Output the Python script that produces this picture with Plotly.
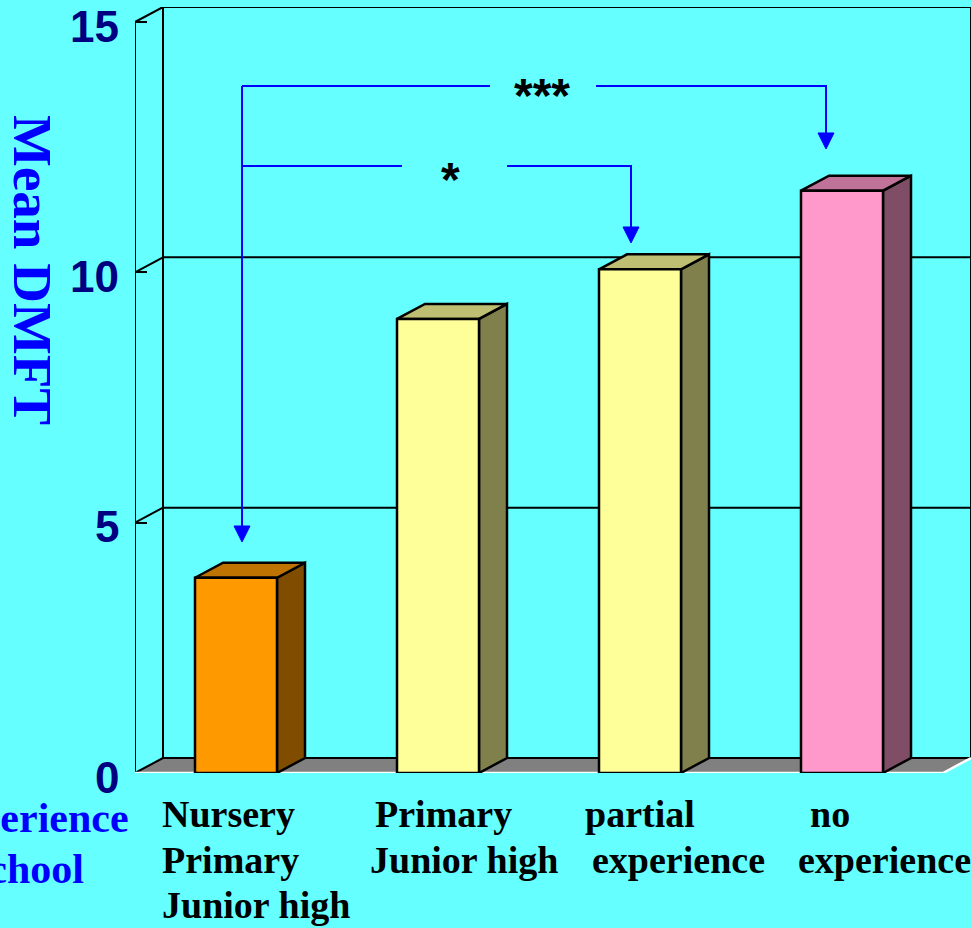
import plotly.graph_objects as go

# ---- data ----
categories = ["Nursery/Primary/Junior high", "Primary/Junior high",
              "partial experience", "no experience"]
category_lines = [["Nursery", "Primary", "Junior high"],
                  ["Primary", "Junior high"],
                  ["partial", "experience"],
                  ["no", "experience"]]
mean_dmft = [3.90, 9.07, 10.06, 11.63]
y_ticks = [0, 5, 10, 15]
significance = ["***", "*"]

front_colors = ["#FF9900", "#FFFF99", "#FFFF99", "#FF99CC"]
top_colors = ["#BF7300", "#BFBF73", "#BFBF73", "#BF7399"]
side_colors = ["#804D00", "#80804D", "#80804D", "#804D66"]

# ---- figure geometry ----
W, H = 972, 928
ML, MR, MT, MB = 135, 1, 7, 155
PX_PER_X = 202.0           # pixels per category
PX_PER_Y = 766.0 / 15.3    # pixels per DMFT unit
DX = 28 / PX_PER_X         # depth offset of the 3-D box (x units)
DY = 15 / PX_PER_Y         # depth offset of the 3-D box (y units)
X_LO, X_HI = -0.5, 3.5
Y_TOP = 15
BAR_W = 82 / PX_PER_X
BG = "#66FFFF"
BLUE = "#0000FF"


def px_x(px):
    return X_LO + (px - ML) / PX_PER_X


def px_y(py):
    return (H - MB - py) / PX_PER_Y


def paper_x(px):
    return (px - ML) / (W - ML - MR)


def paper_y(py):
    return (H - MB - py) / (H - MB - MT)


fig = go.Figure()

# floor
fig.add_trace(go.Scatter(
    x=[X_LO, X_HI, X_HI + DX, X_LO + DX, X_LO],
    y=[0, 0, DY, DY, 0],
    fill="toself", fillcolor="#808080", mode="lines",
    line=dict(width=0), hoverinfo="skip", showlegend=False))

# walls: back wall frame, gridlines, left side wall
wx, wy = [], []
wx += [X_LO + DX, X_LO + DX, X_HI + DX, X_HI + DX, None]
wy += [DY, Y_TOP + DY, Y_TOP + DY, DY, None]
for t in y_ticks:
    if 0 < t < Y_TOP:
        wx += [X_LO + DX, X_HI + DX, None]
        wy += [t + DY, t + DY, None]
wx += [X_LO + DX, X_HI + DX, None]
wy += [DY, DY, None]
wx += [X_LO, X_LO, None]
wy += [0, Y_TOP, None]
for t in y_ticks:
    wx += [X_LO, X_LO + DX, None]
    wy += [t, t + DY, None]
fig.add_trace(go.Scatter(x=wx, y=wy, mode="lines",
                         line=dict(color="black", width=2),
                         hoverinfo="skip", showlegend=False))

# white front edge of the floor
fig.add_trace(go.Scatter(x=[X_LO, X_HI, X_HI + DX], y=[0, 0, DY], mode="lines",
                         line=dict(color="white", width=2.5),
                         hoverinfo="skip", showlegend=False))

# 3-D bars
for i, v in enumerate(mean_dmft):
    x0, x1 = i - BAR_W / 2, i + BAR_W / 2
    faces = [
        ([x1, x1 + DX, x1 + DX, x1, x1], [0, DY, v + DY, v, 0], side_colors[i]),
        ([x0, x1, x1 + DX, x0 + DX, x0], [v, v, v + DY, v + DY, v], top_colors[i]),
        ([x0, x1, x1, x0, x0], [0, 0, v, v, 0], front_colors[i]),
    ]
    for fx, fy, col in faces:
        fig.add_trace(go.Scatter(
            x=fx, y=fy, fill="toself", fillcolor=col, mode="lines",
            line=dict(color="black", width=2.5), name=categories[i],
            hoverinfo="skip", showlegend=False))

# significance brackets
xa = px_x(242)
y_hi, y_mid = px_y(86), px_y(166)
tips = [(xa, px_y(542)), (px_x(631), px_y(243)), (px_x(826), px_y(149))]
HEAD_H = 16 / PX_PER_Y
HEAD_HW = 8 / PX_PER_X

bx = [xa, xa, None,
      xa, px_x(490), None, px_x(596), tips[2][0], tips[2][0], None,
      xa, px_x(402), None, px_x(507), tips[1][0], tips[1][0], None]
by = [y_hi, tips[0][1] + HEAD_H, None,
      y_hi, y_hi, None, y_hi, y_hi, tips[2][1] + HEAD_H, None,
      y_mid, y_mid, None, y_mid, y_mid, tips[1][1] + HEAD_H, None]
fig.add_trace(go.Scatter(x=bx, y=by, mode="lines",
                         line=dict(color=BLUE, width=2),
                         hoverinfo="skip", showlegend=False))
for tx, ty in tips:
    fig.add_trace(go.Scatter(
        x=[tx - HEAD_HW, tx + HEAD_HW, tx, tx - HEAD_HW],
        y=[ty + HEAD_H, ty + HEAD_H, ty, ty + HEAD_H],
        fill="toself", fillcolor=BLUE, mode="lines",
        line=dict(color=BLUE, width=1), hoverinfo="skip", showlegend=False))

annotations = []
star_font = dict(family="Liberation Sans", size=48, color="black", weight="bold")
annotations.append(dict(x=px_x(542), y=px_y(86), xref="x", yref="y",
                        text=significance[0], showarrow=False, font=star_font,
                        xanchor="center", yanchor="middle", yshift=-10))
annotations.append(dict(x=px_x(450), y=px_y(170), xref="x", yref="y",
                        text=significance[1], showarrow=False, font=star_font,
                        xanchor="center", yanchor="middle", yshift=-10))

# y tick labels, set a little below their tick marks
tick_font = dict(family="Liberation Sans", size=44, color="#000080", weight="bold")
for t in y_ticks:
    annotations.append(dict(
        x=0, y=t, xref="paper", yref="y", text=str(t), showarrow=False,
        font=tick_font, xanchor="right", yanchor="middle",
        xshift=-14, yshift=-4))

# category labels
label_font = dict(family="Liberation Serif", size=38, color="black", weight="bold")
label_left = [[160, 160, 160], [373, 368], [583, 590], [808, 796]]
line_mid = [814, 860, 905]
for i, lines in enumerate(category_lines):
    for j, txt in enumerate(lines):
        annotations.append(dict(
            x=paper_x(label_left[i][j]), y=paper_y(line_mid[j]),
            xref="paper", yref="paper", text=txt, showarrow=False,
            font=label_font, xanchor="left", yanchor="middle"))

# x-axis group title (blue), partly running off the left edge
title_font = dict(family="Liberation Serif", size=42, color=BLUE, weight="bold")
for txt, cy in [("Experience", 818), ("school", 869)]:
    annotations.append(dict(
        x=paper_x(28), y=paper_y(cy), xref="paper", yref="paper",
        text=txt, showarrow=False, font=title_font,
        xanchor="center", yanchor="middle"))

# y-axis title
annotations.append(dict(
    x=paper_x(33), y=paper_y(270), xref="paper", yref="paper",
    text="Mean DMFT", textangle=90, showarrow=False,
    font=dict(family="Liberation Serif", size=55, color=BLUE, weight="bold"),
    xanchor="center", yanchor="middle"))

fig.update_layout(
    width=W, height=H,
    margin=dict(l=ML, r=MR, t=MT, b=MB, pad=0, autoexpand=False),
    paper_bgcolor=BG, plot_bgcolor=BG,
    showlegend=False,
    annotations=annotations,
    xaxis=dict(range=[X_LO, X_HI + DX], showgrid=False, zeroline=False,
               showticklabels=False, ticks="", showline=False,
               automargin=False, fixedrange=True),
    yaxis=dict(range=[0, Y_TOP + DY], tickvals=y_ticks,
               showgrid=False, zeroline=False, showline=False,
               ticks="inside", ticklen=12, tickwidth=2, tickcolor="black",
               showticklabels=False, automargin=False, fixedrange=True),
)

fig.write_html("out.html")
